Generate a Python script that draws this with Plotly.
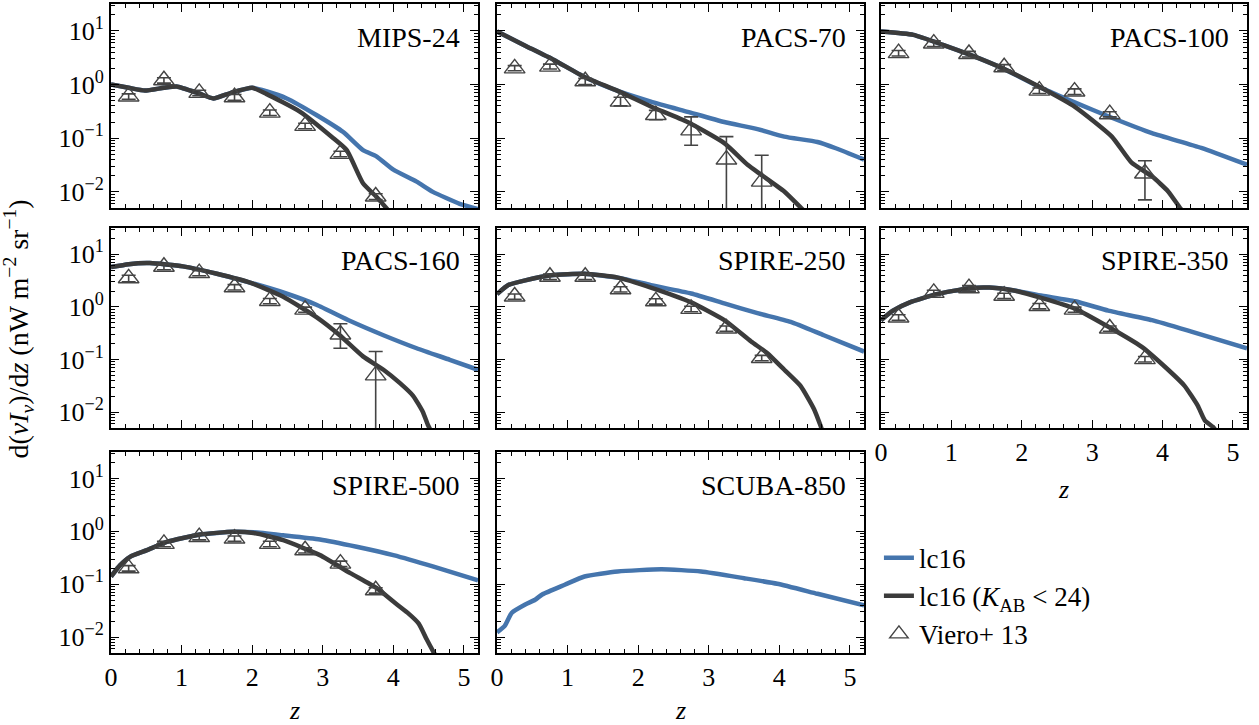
import plotly.graph_objects as go

# ---------------- data ----------------
z_bins = [0.25, 0.75, 1.25, 1.75, 2.25, 2.75, 3.25, 3.75]

band_names = ["MIPS-24", "PACS-70", "PACS-100", "PACS-160", "SPIRE-250", "SPIRE-350", "SPIRE-500", "SCUBA-850"]

# MIPS-24
mips24_z_all = [0, 0.25, 0.48, 0.75, 0.93, 1.25, 1.45, 1.7, 2.0, 2.2, 2.49, 2.91, 3.29, 3.57, 3.76, 4.0, 4.33, 4.56, 4.94, 5.2]
mips24_all = [1.0, 0.87, 0.77, 0.87, 0.92, 0.68, 0.55, 0.7, 0.87, 0.75, 0.55, 0.27, 0.13, 0.06, 0.046, 0.026, 0.0155, 0.010, 0.006, 0.0048]
mips24_z_k24 = [0, 0.25, 0.48, 0.75, 0.93, 1.25, 1.45, 1.7, 2.0, 2.2, 2.68, 3.15, 3.34, 3.57, 3.76, 3.9, 4.0]
mips24_k24 = [1.0, 0.87, 0.77, 0.87, 0.92, 0.68, 0.55, 0.7, 0.87, 0.67, 0.31, 0.10, 0.06, 0.0145, 0.0081, 0.005, 0.0035]
mips24_obs = [0.6, 1.2, 0.7, 0.58, 0.3, 0.17, 0.051, 0.0082]
mips24_lo = [0.53, 1.06, 0.62, 0.51, 0.265, 0.15, 0.045, 0.0072]
mips24_hi = [0.67, 1.34, 0.78, 0.65, 0.335, 0.19, 0.057, 0.0092]

# PACS-70
pacs70_z_all = [0, 0.4, 0.8, 1.24, 1.71, 2.18, 2.7, 3.22, 3.69, 4.07, 4.54, 4.8, 5.2]
pacs70_all = [9.7, 5.3, 2.9, 1.38, 0.76, 0.48, 0.31, 0.2, 0.148, 0.107, 0.085, 0.065, 0.04]
pacs70_z_k24 = [0, 0.4, 0.8, 1.24, 1.71, 2.18, 2.7, 3.22, 3.55, 3.74, 4.07, 4.31, 4.4]
pacs70_k24 = [9.7, 5.3, 2.9, 1.38, 0.76, 0.39, 0.2, 0.081, 0.032, 0.021, 0.0102, 0.005, 0.0038]
pacs70_obs = [2.0, 2.15, 1.15, 0.48, 0.27, 0.14, 0.04, 0.0155]
pacs70_lo = [1.8, 1.95, 1.0, 0.40, 0.22, 0.074, 0.0001, 0.0001]
pacs70_hi = [2.25, 2.4, 1.3, 0.58, 0.33, 0.25, 0.107, 0.048]

# PACS-100
pacs100_z_all = [0, 0.46, 0.88, 1.26, 1.73, 2.29, 2.76, 3.28, 3.85, 4.55, 5.2]
pacs100_all = [9.7, 8.4, 5.5, 3.6, 2.0, 0.85, 0.46, 0.24, 0.124, 0.066, 0.032]
pacs100_z_k24 = [0, 0.46, 0.88, 1.26, 1.73, 2.29, 2.76, 3.28, 3.56, 3.85, 4.08, 4.25, 4.35]
pacs100_k24 = [9.7, 8.4, 5.5, 3.6, 2.0, 0.85, 0.38, 0.107, 0.035, 0.0195, 0.0102, 0.005, 0.0035]
pacs100_obs = [3.85, 5.8, 3.7, 2.1, 0.77, 0.74, 0.28, 0.022]
pacs100_lo = [3.4, 5.1, 3.25, 1.85, 0.68, 0.65, 0.25, 0.0071]
pacs100_hi = [4.3, 6.5, 4.15, 2.35, 0.86, 0.83, 0.31, 0.038]

# PACS-160
pacs160_z_all = [0, 0.25, 0.55, 1.02, 1.5, 1.97, 2.44, 2.91, 3.39, 3.86, 4.33, 4.8, 5.2]
pacs160_all = [5.7, 6.5, 6.8, 5.9, 4.27, 2.9, 1.88, 1.1, 0.54, 0.29, 0.164, 0.099, 0.064]
pacs160_z_k24 = [0, 0.25, 0.55, 1.02, 1.5, 1.97, 2.44, 2.91, 3.24, 3.57, 3.86, 4.09, 4.28, 4.42, 4.49, 4.55]
pacs160_k24 = [5.7, 6.5, 6.8, 5.9, 4.27, 2.9, 1.56, 0.64, 0.29, 0.115, 0.064, 0.036, 0.0205, 0.01, 0.0057, 0.004]
pacs160_obs = [3.5, 5.8, 4.4, 2.37, 1.3, 0.89, 0.30, 0.05]
pacs160_lo = [3.0, 5.1, 3.9, 2.1, 1.15, 0.79, 0.164, 0.0001]
pacs160_hi = [4.0, 6.5, 4.9, 2.65, 1.45, 0.99, 0.48, 0.142]

# SPIRE-250
spire250_z_all = [0, 0.16, 0.4, 0.77, 1.24, 1.71, 2.18, 2.75, 3.22, 3.69, 4.16, 4.63, 5.2]
spire250_all = [1.75, 2.6, 3.2, 4.0, 4.27, 3.6, 2.6, 1.8, 1.17, 0.76, 0.52, 0.29, 0.142]
spire250_z_k24 = [0, 0.16, 0.4, 0.77, 1.24, 1.71, 2.18, 2.75, 3.22, 3.6, 3.83, 4.07, 4.3, 4.49, 4.58, 4.62]
spire250_k24 = [1.75, 2.6, 3.2, 4.0, 4.27, 3.6, 2.33, 1.22, 0.56, 0.22, 0.132, 0.064, 0.0316, 0.0115, 0.0057, 0.004]
spire250_obs = [1.58, 3.75, 3.75, 2.17, 1.28, 0.92, 0.39, 0.107]
spire250_lo = [1.4, 3.3, 3.3, 1.92, 1.13, 0.81, 0.345, 0.095]
spire250_hi = [1.76, 4.2, 4.2, 2.42, 1.43, 1.03, 0.435, 0.12]

# SPIRE-350
spire350_z_all = [0, 0.17, 0.41, 0.79, 1.26, 1.54, 1.87, 2.29, 2.76, 3.23, 3.85, 4.41, 5.2]
spire350_all = [0.56, 0.85, 1.22, 1.75, 2.27, 2.33, 2.08, 1.63, 1.28, 0.85, 0.56, 0.34, 0.164]
spire350_z_k24 = [0, 0.17, 0.41, 0.79, 1.26, 1.54, 1.87, 2.29, 2.76, 3.23, 3.7, 4.08, 4.31, 4.5, 4.6, 4.72, 4.78]
spire350_k24 = [0.56, 0.85, 1.22, 1.75, 2.27, 2.33, 2.08, 1.47, 0.92, 0.42, 0.176, 0.064, 0.032, 0.0133, 0.007, 0.0052, 0.004]
spire350_obs = [0.63, 1.85, 2.27, 1.63, 1.04, 0.89, 0.39, 0.102]
spire350_lo = [0.56, 1.63, 2.0, 1.44, 0.92, 0.79, 0.345, 0.09]
spire350_hi = [0.71, 2.07, 2.54, 1.82, 1.16, 0.99, 0.435, 0.114]

# SPIRE-500
spire500_z_all = [0, 0.13, 0.27, 0.51, 0.79, 1.26, 1.73, 2.02, 2.44, 2.96, 3.48, 4.0, 4.57, 5.2]
spire500_all = [0.14, 0.23, 0.33, 0.44, 0.63, 0.87, 0.98, 0.96, 0.84, 0.70, 0.51, 0.355, 0.215, 0.118]
spire500_z_k24 = [0, 0.13, 0.27, 0.51, 0.79, 1.26, 1.73, 2.02, 2.44, 2.96, 3.39, 3.76, 4.0, 4.2, 4.36, 4.47, 4.57, 4.62]
spire500_k24 = [0.14, 0.23, 0.33, 0.44, 0.63, 0.87, 0.98, 0.93, 0.68, 0.355, 0.162, 0.085, 0.047, 0.029, 0.018, 0.0092, 0.0052, 0.004]
spire500_obs = [0.2, 0.58, 0.78, 0.73, 0.58, 0.44, 0.245, 0.077]
spire500_lo = [0.177, 0.51, 0.69, 0.645, 0.51, 0.39, 0.216, 0.068]
spire500_hi = [0.225, 0.65, 0.87, 0.815, 0.65, 0.49, 0.274, 0.086]

# SCUBA-850 (model only)
scuba850_z_all = [0, 0.11, 0.21, 0.40, 0.54, 0.64, 0.96, 1.24, 1.71, 2.33, 2.89, 3.5, 3.97, 4.54, 5.2]
scuba850_all = [0.0123, 0.0163, 0.029, 0.0415, 0.051, 0.064, 0.098, 0.14, 0.174, 0.192, 0.174, 0.13, 0.102, 0.066, 0.040]

panels = [
    (mips24_z_all, mips24_all, mips24_z_k24, mips24_k24, mips24_obs, mips24_lo, mips24_hi),
    (pacs70_z_all, pacs70_all, pacs70_z_k24, pacs70_k24, pacs70_obs, pacs70_lo, pacs70_hi),
    (pacs100_z_all, pacs100_all, pacs100_z_k24, pacs100_k24, pacs100_obs, pacs100_lo, pacs100_hi),
    (pacs160_z_all, pacs160_all, pacs160_z_k24, pacs160_k24, pacs160_obs, pacs160_lo, pacs160_hi),
    (spire250_z_all, spire250_all, spire250_z_k24, spire250_k24, spire250_obs, spire250_lo, spire250_hi),
    (spire350_z_all, spire350_all, spire350_z_k24, spire350_k24, spire350_obs, spire350_lo, spire350_hi),
    (spire500_z_all, spire500_all, spire500_z_k24, spire500_k24, spire500_obs, spire500_lo, spire500_hi),
    (scuba850_z_all, scuba850_all, None, None, None, None, None),
]

y_tickvals = [0.01, 0.1, 1, 10]
y_ticktext = ["10<sup>−2</sup>", "10<sup>−1</sup>", "10<sup>0</sup>", "10<sup>1</sup>"]

# ---------------- style ----------------
FONT = "Liberation Serif, DejaVu Serif, serif"
BLUE = "#4575ad"
DARK = "#3b3b3b"
MARK = "#444444"

col_dom = [[0.0, 0.3231], [0.3398, 0.6629], [0.6778, 1.0]]
row_dom = [[0.6857, 1.0], [0.3467, 0.6549], [0.0, 0.3097]]
minor_y = [k * 10.0 ** d for d in range(-3, 2) for k in range(2, 10)]

fig = go.Figure()
layout = {}
annotations = []

for i, (za, va, zk, vk, obs, lo, hi) in enumerate(panels):
    r, c = divmod(i, 3)
    n = "" if i == 0 else str(i + 1)
    xa, ya = "x" + n, "y" + n
    first = i == 0
    fig.add_trace(go.Scatter(x=za, y=va, mode="lines", xaxis=xa, yaxis=ya,
                             line=dict(color=BLUE, width=4.5, shape="spline", smoothing=0.5),
                             name="lc16", showlegend=first, legendrank=1))
    if zk is not None:
        fig.add_trace(go.Scatter(x=zk, y=vk, mode="lines", xaxis=xa, yaxis=ya,
                                 line=dict(color=DARK, width=4.5, shape="spline", smoothing=0.5),
                                 name="lc16 (<i>K</i><sub>AB</sub> &lt; 24)", showlegend=first, legendrank=2))
        fig.add_trace(go.Scatter(
            x=z_bins, y=obs, mode="markers", xaxis=xa, yaxis=ya,
            marker=dict(symbol="triangle-up-open", size=18, color=MARK, line=dict(width=1.4, color=MARK)),
            error_y=dict(type="data", symmetric=False,
                         array=[h - o for h, o in zip(hi, obs)],
                         arrayminus=[o - l for o, l in zip(obs, lo)],
                         color=MARK, thickness=1.6, width=7),
            name="Viero+ 13", showlegend=first, legendrank=3))

    show_x = (r == 2) or (i == 5)
    layout["xaxis" + n] = dict(
        domain=col_dom[c], anchor=ya, range=[0, 5.2], tick0=0, dtick=1,
        ticks="inside", ticklen=8, tickwidth=1.4, tickcolor="black",
        minor=dict(ticks="inside", ticklen=4, tickwidth=1, dtick=0.2, tick0=0, tickcolor="black"),
        showline=True, linecolor="black", linewidth=2, mirror="allticks",
        showgrid=False, zeroline=False, showticklabels=show_x, automargin=False,
        tickfont=dict(family=FONT, size=26, color="black"))
    layout["yaxis" + n] = dict(
        domain=row_dom[r], anchor=xa, type="log", range=[-2.3, 1.5],
        tickmode="array", tickvals=y_tickvals, ticktext=y_ticktext,
        ticks="inside", ticklen=8, tickwidth=1.4, tickcolor="black",
        minor=dict(ticks="inside", ticklen=4, tickwidth=1, tickmode="array", tickvals=minor_y, tickcolor="black"),
        showline=True, linecolor="black", linewidth=2, mirror="allticks",
        showgrid=False, zeroline=False, showticklabels=(c == 0), automargin=False,
        tickfont=dict(family=FONT, size=26, color="black"))

    annotations.append(dict(text=band_names[i], xref=xa + " domain", yref=ya + " domain",
                            x=0.955, y=0.835, xanchor="right", yanchor="middle", showarrow=False,
                            font=dict(family=FONT, size=28, color="black")))
    if show_x:
        ytitle = -0.088 if r == 2 else 0.252
        annotations.append(dict(text="<i>z</i>", xref=xa + " domain", yref="paper",
                                x=0.5, y=ytitle, xanchor="center", yanchor="middle", showarrow=False,
                                font=dict(family=FONT, size=26, color="black")))

annotations.append(dict(text="d(<i>νI</i><sub><i>ν</i></sub>)/d<i>z</i> (nW m<sup>−2</sup> sr<sup>−1</sup>)",
                        xref="paper", yref="paper", x=-0.081, y=0.5, textangle=-90,
                        xanchor="center", yanchor="middle", showarrow=False,
                        font=dict(family=FONT, size=28, color="black")))

fig.update_layout(
    width=1259, height=725,
    margin=dict(l=111, r=12, t=4, b=72),
    paper_bgcolor="white", plot_bgcolor="white",
    font=dict(family=FONT, size=24, color="black"),
    showlegend=True,
    legend=dict(x=0.676, y=0.184, xanchor="left", yanchor="top",
                bgcolor="rgba(0,0,0,0)", font=dict(family=FONT, size=27, color="black"),
                itemwidth=30, tracegroupgap=0),
    annotations=annotations,
    **layout)

fig.write_html("out.html", config={"displayModeBar": False},
               post_script="document.body.style.margin='0';")
